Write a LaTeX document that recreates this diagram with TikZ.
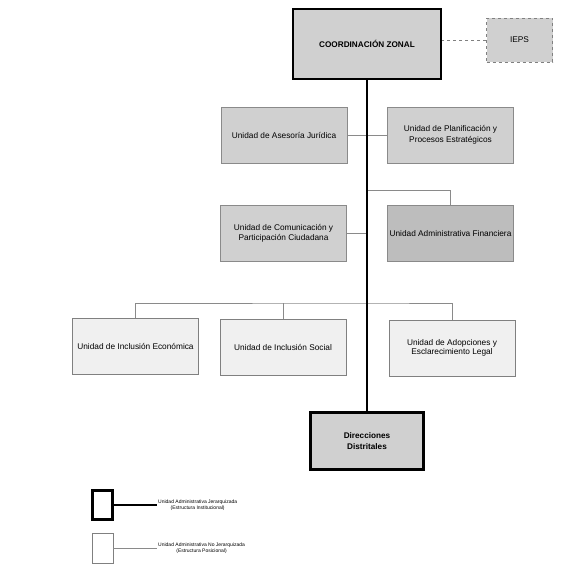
\documentclass[tikz,border=0pt]{standalone}
\usepackage{fontspec}
\setmainfont{Liberation Sans}
\usetikzlibrary{positioning}
\definecolor{boxgray}{HTML}{D0D0D0}
\definecolor{darkgray}{HTML}{BDBDBD}
\definecolor{lightgray}{HTML}{F0F0F0}
\definecolor{linegray}{HTML}{8A8A8A}
\tikzset{
  unitbox/.style={draw=linegray,fill=boxgray,minimum width=126pt,minimum height=56pt,
    align=center,font=\fontsize{8.3}{10.5}\selectfont,inner sep=1pt},
  headbox/.style={draw=black,line width=2.6pt,fill=boxgray,align=center,
    font=\fontsize{8.2}{11.5}\selectfont\bfseries},
  thin/.style={draw=linegray,line width=0.6pt},
  legtext/.style={align=center,font=\fontsize{5}{6}\selectfont,inner sep=1pt,anchor=west}
}
\begin{document}
\begin{tikzpicture}[x=1pt,y=-1pt]
\useasboundingbox (0,0) rectangle (567,578);
% level 1
\node[headbox,minimum width=148pt,minimum height=70pt] (cz) at (367,44) {COORDINACIÓN ZONAL};
\node[draw=gray,dashed,line width=0.8pt,fill=boxgray,minimum width=66pt,minimum height=44pt,
  font=\fontsize{8.3}{9}\selectfont] (ieps) at (519.5,40) {IEPS};
\node[headbox,minimum width=113pt,minimum height=57pt] (dd) at (367,441) {Direcciones\\Distritales};
% advisory units
\node[unitbox] (aj) at (284,135) {Unidad de Asesoría Jurídica};
\node[unitbox] (pe) at (450.5,135) {Unidad de Planificación y\\Procesos Estratégicos};
\node[unitbox] (cc) at (283.5,233.5) {Unidad de Comunicación y\\Participación Ciudadana};
\node[unitbox,fill=darkgray] (af) at (450.5,233.5) {Unidad Administrativa Financiera};
% substantive units
\node[unitbox,fill=lightgray,draw=gray] (ie) at (135.5,346.5) {Unidad de Inclusión Económica};
\node[unitbox,fill=lightgray,draw=gray] (is) at (283,347.5) {Unidad de Inclusión Social};
\node[unitbox,fill=lightgray,draw=gray,font=\fontsize{8.3}{9}\selectfont] (ad) at (452,348) {Unidad de Adopciones y\\Esclarecimiento Legal};
% connectors
\coordinate (fin) at (367,190);
\coordinate (bus) at (367,303);
\draw[thin] (aj.east) -- (pe.west);
\draw[thin] (fin) -| (af.north);
\draw[thin] (cc.east) -- (cc.east -| fin);
\draw[thin] (ie.north) |- (bus) -| (ad.north);
\draw[thin] (is.north) -- (is.north |- bus);
\draw[dashed,draw=gray,line width=0.8pt] (ieps.west) -- (ieps.west -| cz.east);
\draw[line width=2.6pt] (cz.south) -- (dd.north);
% legend
\node[draw=black,line width=2.4pt,minimum width=20pt,minimum height=29pt] (lj) at (102.5,505) {};
\node[draw=gray,line width=0.6pt,minimum width=21pt,minimum height=30pt] (lnj) at (102.5,548) {};
\node[legtext] (tj) at (157,505) {Unidad Administrativa Jerarquizada\\(Estructura Institucional)};
\node[legtext] (tnj) at (157,548) {Unidad Administrativa No Jerarquizada\\(Estructura Posicional)};
\draw[line width=2pt] (lj.east) -- (tj.west);
\draw[thin] (lnj.east) -- (tnj.west);
\end{tikzpicture}
\end{document}
